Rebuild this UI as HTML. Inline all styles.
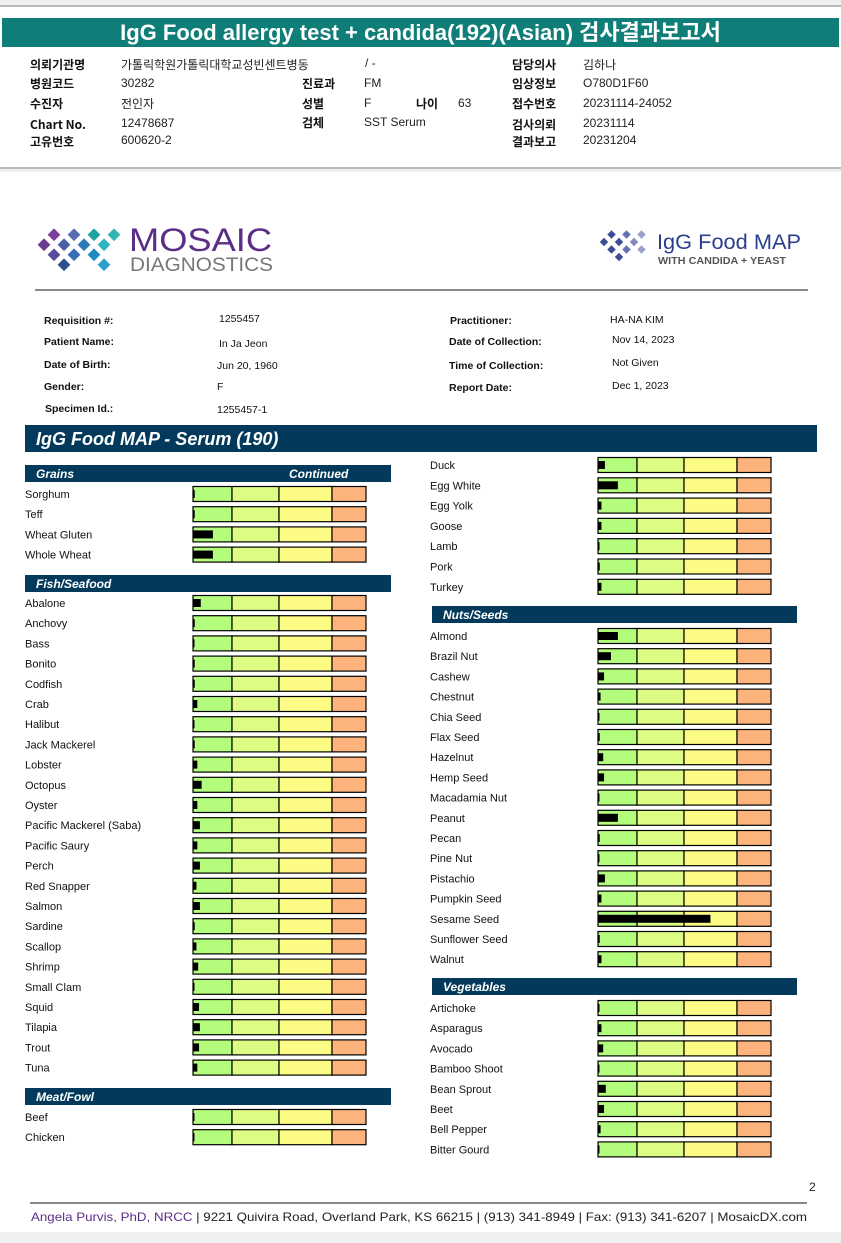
<!DOCTYPE html>
<html><head><meta charset="utf-8">
<style>
body{margin:0;width:841px;height:1243px;position:relative;background:#efefef;font-family:"Liberation Sans","Noto Sans CJK KR",sans-serif;overflow:hidden}
.a{position:absolute;white-space:nowrap}
.k{font-family:"Noto Sans CJK KR","Liberation Sans",sans-serif;font-size:12px;font-weight:bold;color:#111}
.v{font-family:"Liberation Sans","Noto Sans CJK KR",sans-serif;font-size:12px;color:#222}
</style></head><body>
<div class="a" style="left:0;top:5px;width:841px;height:160px;background:#fff;border-top:2px solid #bbb;border-bottom:2px solid #bbb"></div>
<div class="a" style="left:2px;top:18px;width:837px;height:29px;background:#107e78;color:#fff;font-family:'Liberation Sans','Noto Sans CJK KR',sans-serif;font-weight:bold;font-size:22px;line-height:29px;text-align:center">IgG Food allergy test + candida(192)(Asian) 검사결과보고서</div>
<div>
<div class="a k" style="left:30px;top:56px">의뢰기관명</div><div class="a v" style="left:121px;top:56px">가톨릭학원가톨릭대학교성빈센트병동</div><div class="a v" style="left:365px;top:56px">/ -</div>
<div class="a k" style="left:512px;top:56px">담당의사</div><div class="a v" style="left:583px;top:56px">김하나</div>
<div class="a k" style="left:30px;top:75px">병원코드</div><div class="a v" style="left:121px;top:76px">30282</div>
<div class="a k" style="left:302px;top:75px">진료과</div><div class="a v" style="left:364px;top:76px">FM</div>
<div class="a k" style="left:512px;top:75px">임상정보</div><div class="a v" style="left:583px;top:76px">O780D1F60</div>
<div class="a k" style="left:30px;top:95px">수진자</div><div class="a v" style="left:121px;top:95px">전인자</div>
<div class="a k" style="left:302px;top:95px">성별</div><div class="a v" style="left:364px;top:96px">F</div>
<div class="a k" style="left:416px;top:95px">나이</div><div class="a v" style="left:458px;top:96px">63</div>
<div class="a k" style="left:512px;top:95px">접수번호</div><div class="a v" style="left:583px;top:96px">20231114-24052</div>
<div class="a k" style="left:30px;top:116px">Chart No.</div><div class="a v" style="left:121px;top:116px">12478687</div>
<div class="a k" style="left:302px;top:114px">검체</div><div class="a v" style="left:364px;top:115px">SST Serum</div>
<div class="a k" style="left:512px;top:116px">검사의뢰</div><div class="a v" style="left:583px;top:116px">20231114</div>
<div class="a k" style="left:30px;top:133px">고유번호</div><div class="a v" style="left:121px;top:133px">600620-2</div>
<div class="a k" style="left:512px;top:133px">결과보고</div><div class="a v" style="left:583px;top:133px">20231204</div>
</div>
<div class="a" style="left:0;top:172px;width:841px;height:1060px;background:#fff"></div>
<svg class="a" style="left:0;top:0" width="841" height="1243">
<g>
<rect x="40" y="240" width="9" height="9" transform="rotate(45 44 244)" fill="#6b3a8f"/>
<rect x="50" y="230" width="9" height="9" transform="rotate(45 54 234)" fill="#7b3f9a"/>
<rect x="50" y="250" width="9" height="9" transform="rotate(45 54 254)" fill="#5a4a9a"/>
<rect x="60" y="240" width="9" height="9" transform="rotate(45 64 244)" fill="#4d5fa8"/>
<rect x="60" y="260" width="9" height="9" transform="rotate(45 64 264)" fill="#2e4f8f"/>
<rect x="70" y="230" width="9" height="9" transform="rotate(45 74 234)" fill="#5a6ab0"/>
<rect x="70" y="250" width="9" height="9" transform="rotate(45 74 254)" fill="#3a6db5"/>
<rect x="80" y="240" width="9" height="9" transform="rotate(45 84 244)" fill="#2b7ab8"/>
<rect x="90" y="230" width="9" height="9" transform="rotate(45 94 234)" fill="#1aa3a0"/>
<rect x="90" y="250" width="9" height="9" transform="rotate(45 94 254)" fill="#1e8cc4"/>
<rect x="100" y="240" width="9" height="9" transform="rotate(45 104 244)" fill="#2db4c0"/>
<rect x="100" y="260" width="9" height="9" transform="rotate(45 104 264)" fill="#2a9ed0"/>
<rect x="110" y="230" width="9" height="9" transform="rotate(45 114 234)" fill="#30b5b0"/>
<text x="129" y="251" font-family="Liberation Sans" font-size="32" fill="#5b2d86" textLength="143" lengthAdjust="spacingAndGlyphs">MOSAIC</text>
<text x="130" y="271" font-family="Liberation Sans" font-size="19" fill="#777" textLength="143" lengthAdjust="spacingAndGlyphs">DIAGNOSTICS</text>
</g>
<g>
<g transform="translate(556,5) scale(0.75)" fill="#3c4f96">
<rect x="60" y="312" width="8" height="8" transform="rotate(45 64 316)"/><rect x="70" y="302" width="8" height="8" transform="rotate(45 74 306)"/><rect x="70" y="322" width="8" height="8" transform="rotate(45 74 326)"/><rect x="80" y="312" width="8" height="8" transform="rotate(45 84 316)"/><rect x="80" y="332" width="8" height="8" transform="rotate(45 84 336)"/><rect x="90" y="302" width="8" height="8" transform="rotate(45 94 306)" fill="#6470b0"/><rect x="90" y="322" width="8" height="8" transform="rotate(45 94 326)" fill="#6470b0"/><rect x="100" y="312" width="8" height="8" transform="rotate(45 104 316)" fill="#8088c0"/><rect x="110" y="302" width="8" height="8" transform="rotate(45 114 306)" fill="#9aa0cc"/><rect x="110" y="322" width="8" height="8" transform="rotate(45 114 326)" fill="#9aa0cc"/>
</g>
<text x="657" y="249" font-family="Liberation Sans" font-size="21" fill="#2c3f8c" textLength="144" lengthAdjust="spacingAndGlyphs">IgG Food MAP</text>
<text x="658" y="264" font-family="Liberation Sans" font-size="10" font-weight="bold" fill="#555" textLength="128" lengthAdjust="spacingAndGlyphs">WITH CANDIDA + YEAST</text>
</g>
<rect x="35" y="289" width="773" height="2" fill="#888"/>
<g font-family="Liberation Sans" font-size="10.5" fill="#111">
<text x="44" y="324" font-weight="bold">Requisition #:</text><text x="219" y="322">1255457</text>
<text x="44" y="345" font-weight="bold">Patient Name:</text><text x="219" y="347">In Ja Jeon</text>
<text x="44" y="368" font-weight="bold">Date of Birth:</text><text x="217" y="369">Jun 20, 1960</text>
<text x="44" y="390" font-weight="bold">Gender:</text><text x="217" y="390">F</text>
<text x="45" y="412" font-weight="bold">Specimen Id.:</text><text x="217" y="413">1255457-1</text>
<text x="450" y="324" font-weight="bold">Practitioner:</text><text x="610" y="323">HA-NA KIM</text>
<text x="449" y="345" font-weight="bold">Date of Collection:</text><text x="612" y="343">Nov 14, 2023</text>
<text x="449" y="369" font-weight="bold">Time of Collection:</text><text x="612" y="366">Not Given</text>
<text x="449" y="391" font-weight="bold">Report Date:</text><text x="612" y="389">Dec 1, 2023</text>
</g>
<rect x="25" y="425" width="792" height="27" fill="#033a5c"/>
<text x="36" y="445" font-family="Liberation Sans" font-size="18" font-weight="bold" font-style="italic" fill="#fff">IgG Food MAP - Serum (190)</text>
<g id="chart"></g>
<text x="809" y="1191" font-family="Liberation Sans" font-size="12" fill="#222">2</text>
<rect x="30" y="1202" width="777" height="2" fill="#888"/>
<text x="31" y="1221" font-family="Liberation Sans" font-size="12" fill="#222" textLength="776" lengthAdjust="spacingAndGlyphs"><tspan fill="#5b2d86">Angela Purvis, PhD, NRCC</tspan> | 9221 Quivira Road, Overland Park, KS 66215  |  (913) 341-8949  |  Fax: (913) 341-6207 | MosaicDX.com</text>
</svg>
<script>
// Category / value arrays (value = bar reading on a 0-100 scale)
const grainsFoods=["Sorghum","Teff","Wheat Gluten","Whole Wheat"];
const grainsVals=[1,1,11.5,11.5];
const fishFoods=["Abalone","Anchovy","Bass","Bonito","Codfish","Crab","Halibut","Jack Mackerel","Lobster","Octopus","Oyster","Pacific Mackerel (Saba)","Pacific Saury","Perch","Red Snapper","Salmon","Sardine","Scallop","Shrimp","Small Clam","Squid","Tilapia","Trout","Tuna"];
const fishVals=[4.5,1,0.5,1,1,2.5,0.5,1,2.5,5,2.5,4,2.5,4,2,4,1,2,3,0.5,3.5,4,3.5,2.5];
const meatFoods=["Beef","Chicken","Duck","Egg White","Egg Yolk","Goose","Lamb","Pork","Turkey"];
const meatVals=[0.5,0.5,4,11.5,2,2,0.5,1,2];
const nutsFoods=["Almond","Brazil Nut","Cashew","Chestnut","Chia Seed","Flax Seed","Hazelnut","Hemp Seed","Macadamia Nut","Peanut","Pecan","Pine Nut","Pistachio","Pumpkin Seed","Sesame Seed","Sunflower Seed","Walnut"];
const nutsVals=[11.5,7.5,3.5,1.5,0.5,1,3,3.5,0.5,11.5,1,0.5,4,2,65,1,2];
const vegFoods=["Artichoke","Asparagus","Avocado","Bamboo Shoot","Bean Sprout","Beet","Bell Pepper","Bitter Gourd"];
const vegVals=[0.5,2,3,0.5,4.5,3.5,1.5,0.5];

const NS="http://www.w3.org/2000/svg";
const chart=document.getElementById('chart');
const BW=173;
function xScale(v){return Math.max(0,Math.min(100,v))/100*BW;}
const zones=[[0,39,"#b4fc7c"],[39,86,"#dcfc84"],[86,139,"#fcfc84"],[139,173,"#fcb47c"]];
function mk(tag,attrs){const e=document.createElementNS(NS,tag);for(const k in attrs)e.setAttribute(k,attrs[k]);chart.appendChild(e);return e;}
function header(x,y,w,title,cont){
  const r=mk('rect',{x:x,y:y,width:w,height:17,fill:'#033a5c'});
  
  
  const t=mk('text',{x:x+11,y:y+13,'font-family':'Liberation Sans','font-size':12,'font-weight':'bold','font-style':'italic',fill:'#fff'});
  t.textContent=title;
  
  
  if(cont){const c=mk('text',{x:x+264,y:y+13,'font-family':'Liberation Sans','font-size':12,'font-weight':'bold','font-style':'italic',fill:'#fff'});c.textContent='Continued';
  
  }
}
function rows(foods,vals,lx,bx,y0,step){
  foods.forEach((f,i)=>{
    const cy=y0+i*step;
    const t=mk('text',{x:lx,y:cy+4,'font-family':'Liberation Sans','font-size':11,fill:'#111'});
    t.textContent=f;
    
    
    zones.forEach(z=>{mk('rect',{x:bx+z[0],y:cy-7.5,width:z[1]-z[0],height:15,fill:z[2],stroke:'#000','stroke-width':1.2});});
    const b=mk('rect',{x:bx,y:cy-4,width:Math.max(1.5,xScale(vals[i])),height:8,fill:'#000'});
    
    
  });
}
header(25,465,366,'Grains',true);
rows(grainsFoods,grainsVals,25,193,494,20.2);
header(25,575,366,'Fish/Seafood',false);
rows(fishFoods,fishVals,25,193,603,20.2);
header(25,1088,366,'Meat/Fowl',false);
rows(meatFoods.slice(0,2),meatVals.slice(0,2),25,193,1117,20.2);
rows(meatFoods.slice(2),meatVals.slice(2),430,598,465,20.3);
header(432,606,365,'Nuts/Seeds',false);
rows(nutsFoods,nutsVals,430,598,636,20.2);
header(432,978,365,'Vegetables',false);
rows(vegFoods,vegVals,430,598,1008,20.2);
</script>
</body></html>
